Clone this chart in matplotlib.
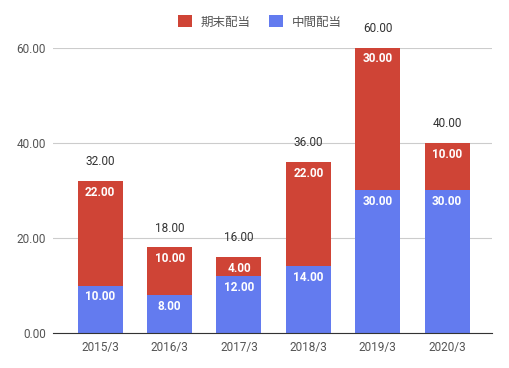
import matplotlib.pyplot as plt
import numpy as np

plt.rcParams['font.family'] = ['Roboto', 'Noto Sans CJK JP', 'DejaVu Sans']

years = ['2015/3', '2016/3', '2017/3', '2018/3', '2019/3', '2020/3']
interim = [10, 8, 12, 14, 30, 30]      # 中間配当
year_end = [22, 10, 4, 22, 30, 10]     # 期末配当
y_ticks = [0, 20, 40, 60]

RED = '#cf4436'
BLUE = '#637bef'

fig = plt.figure(figsize=(5.1, 3.68), dpi=100)
ax = fig.add_axes([0.104, 0.095, 0.861, 0.775])

x = np.arange(len(years))
w = 0.65
b1 = ax.bar(x, interim, w, color=BLUE, label='中間配当', zorder=3)
b2 = ax.bar(x, year_end, w, bottom=interim, color=RED, label='期末配当', zorder=3)

for xi, a, b in zip(x, interim, year_end):
    ax.annotate(f'{a:.2f}', (xi, a), xytext=(0, -8), textcoords='offset points',
                ha='center', va='center', color='white', fontsize=8.5,
                fontweight='bold', zorder=4)
    ax.annotate(f'{b:.2f}', (xi, a + b), xytext=(0, -8), textcoords='offset points',
                ha='center', va='center', color='white', fontsize=8.5,
                fontweight='bold', zorder=4)
    ax.annotate(f'{a + b:.2f}', (xi, a + b), xytext=(0, 14), textcoords='offset points',
                ha='center', va='center', color='#333333', fontsize=8.5, zorder=4)

ax.set_xlim(-0.68, 5.65)
ax.set_ylim(0, 60)
ax.set_xticks(x)
ax.set_xticklabels(years)
ax.set_yticks(y_ticks)
ax.set_yticklabels([f'{v:.2f}' for v in y_ticks])
ax.tick_params(length=0, labelsize=8.5, colors='#555555')
ax.tick_params(axis='x', pad=6)
ax.tick_params(axis='y', pad=5)
ax.grid(axis='y', color='#cccccc', linewidth=0.8, zorder=0)
for s in ['top', 'right', 'left']:
    ax.spines[s].set_visible(False)
ax.spines['bottom'].set_color('#333333')
ax.spines['bottom'].set_zorder(5)

handles = [b2, b1]
fig.legend(handles, ['期末配当', '中間配当'], loc='center', bbox_to_anchor=(0.51, 0.94),
           ncol=2, frameon=False, fontsize=9, handlelength=1.1, handleheight=1.1,
           columnspacing=1.5, handletextpad=0.7, labelcolor='#555555')

fig.savefig('out.png', dpi=100)
